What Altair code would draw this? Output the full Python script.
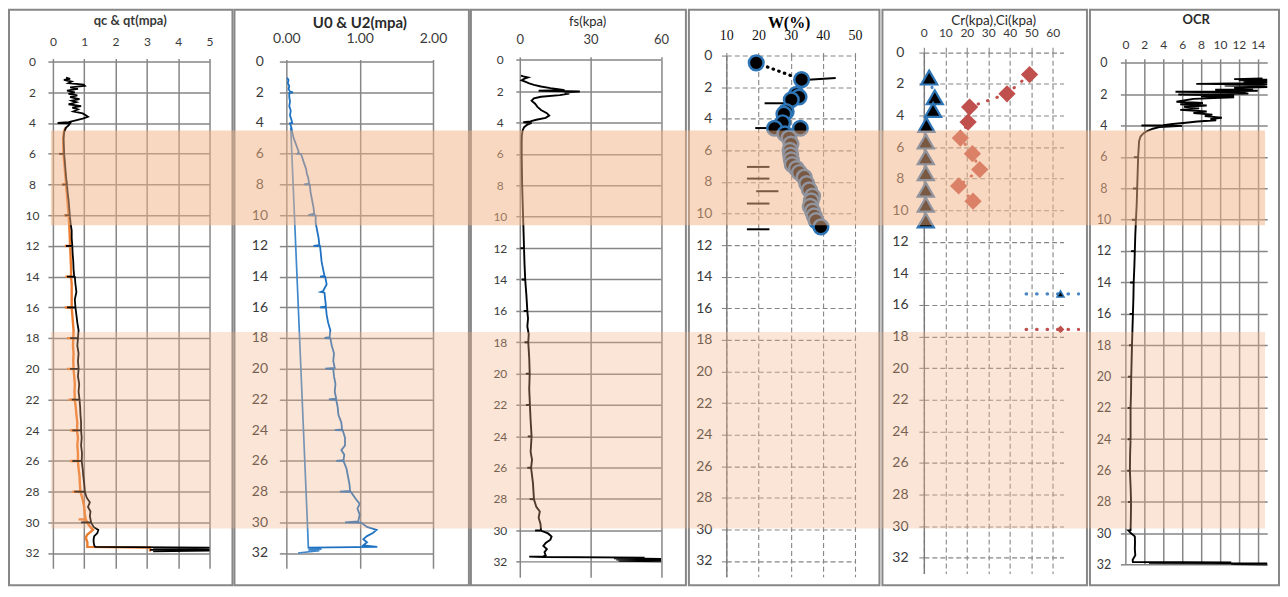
import altair as alt
import pandas as pd

# ---------------- values ----------------
DEPTH_TICKS = list(range(0, 33, 2))
QC_TICKS = [0, 1, 2, 3, 4, 5]
U_TICKS = [0, 1, 2]
FS_TICKS = [0, 30, 60]
W_TICKS = [10, 20, 30, 40, 50]
CR_TICKS = [0, 10, 20, 30, 40, 50, 60]
OCR_TICKS = [0, 2, 4, 6, 8, 10, 12, 14]

TITLES = ["qc & qt(mpa)", "U0 & U2(mpa)", "fs(kpa)", "W(%)", "Cr(kpa),Ci(kpa)", "OCR"]

# (depth m, qt MPa)
QT_PROFILE = [
    (1.05, 0.42), (1.12, 0.55), (1.2, 0.35), (1.3, 0.6), (1.4, 0.5), (1.5, 0.98), (1.58, 1.02), (1.68, 0.55),
    (1.78, 0.8), (1.9, 0.45), (2.0, 0.7), (2.1, 0.5), (2.2, 0.78), (2.32, 0.55), (2.45, 0.85), (2.55, 0.6),
    (2.65, 0.75), (2.78, 0.5), (2.9, 0.9), (3.0, 0.62), (3.12, 0.8), (3.25, 0.65), (3.38, 0.95), (3.5, 1.05),
    (3.6, 1.12), (3.72, 0.95), (3.85, 0.7), (3.95, 0.5), (4.0, 0.15), (4.02, 0.55), (4.15, 0.5), (4.3, 0.42),
    (4.6, 0.36), (5.0, 0.34), (5.5, 0.35), (6.0, 0.36), (6.01, 0.2), (6.02, 0.36), (6.5, 0.38), (7.0, 0.4),
    (7.5, 0.42), (8.0, 0.45), (8.01, 0.3), (8.02, 0.45), (8.5, 0.47), (9.0, 0.5), (9.5, 0.52), (10.0, 0.54),
    (10.01, 0.38), (10.02, 0.54), (10.6, 0.57), (11.0, 0.6), (11.5, 0.6), (12.0, 0.62), (12.01, 0.42), (12.02, 0.62),
    (12.5, 0.63), (13.0, 0.65), (13.5, 0.66), (14.0, 0.68), (14.01, 0.45), (14.02, 0.7), (14.5, 0.72), (15.0, 0.75),
    (15.5, 0.7), (16.0, 0.72), (16.01, 0.45), (16.02, 0.72), (16.5, 0.75), (17.0, 0.78), (17.5, 0.82), (18.0, 0.8),
    (18.01, 0.55), (18.02, 0.8), (18.5, 0.78), (19.0, 0.82), (19.5, 0.8), (20.0, 0.82), (20.01, 0.55), (20.02, 0.82),
    (20.5, 0.8), (21.0, 0.84), (21.5, 0.82), (22.0, 0.85), (22.01, 0.6), (22.02, 0.85), (22.5, 0.87), (23.0, 0.88),
    (23.5, 0.9), (24.0, 0.9), (24.01, 0.62), (24.02, 0.9), (24.5, 0.92), (25.0, 0.9), (25.5, 0.93), (26.0, 0.92),
    (26.01, 0.62), (26.02, 0.92), (26.5, 0.95), (27.0, 0.97), (27.5, 1.0), (28.0, 1.02), (28.01, 0.68), (28.02, 1.02),
    (28.4, 1.08), (28.7, 1.18), (29.0, 1.12), (29.3, 1.2), (29.6, 1.18), (30.0, 1.22), (30.01, 0.9), (30.02, 1.22),
    (30.3, 1.3), (30.5, 1.45), (30.7, 1.42), (30.9, 1.32), (31.1, 1.3), (31.3, 1.3), (31.5, 1.32), (31.6, 1.35),
    (31.65, 5.0), (31.72, 3.2), (31.76, 5.0), (31.8, 3.1), (31.85, 5.0), (31.9, 3.2),
]

# (depth m, qc MPa)
QC_PROFILE = [
    (4.3, 0.4), (4.6, 0.35), (5.0, 0.33), (5.5, 0.33), (6.0, 0.34), (6.01, 0.2), (6.02, 0.34), (6.5, 0.36),
    (7.0, 0.38), (7.5, 0.4), (8.0, 0.42), (8.01, 0.28), (8.02, 0.42), (8.5, 0.44), (9.0, 0.46), (9.5, 0.48),
    (10.0, 0.5), (10.01, 0.36), (10.02, 0.5), (10.6, 0.52), (11.0, 0.53), (11.5, 0.54), (12.0, 0.55), (12.01, 0.38),
    (12.02, 0.55), (12.5, 0.56), (13.0, 0.57), (13.5, 0.58), (14.0, 0.58), (14.01, 0.4), (14.02, 0.58), (14.5, 0.6),
    (15.0, 0.6), (15.5, 0.6), (16.0, 0.6), (16.01, 0.38), (16.02, 0.6), (16.5, 0.62), (17.0, 0.64), (17.5, 0.66),
    (18.0, 0.65), (18.01, 0.45), (18.02, 0.65), (18.5, 0.64), (19.0, 0.66), (19.5, 0.65), (20.0, 0.66), (20.01, 0.45),
    (20.02, 0.66), (20.5, 0.68), (21.0, 0.7), (21.5, 0.69), (22.0, 0.7), (22.01, 0.5), (22.02, 0.7), (22.5, 0.73),
    (23.0, 0.75), (23.5, 0.78), (24.0, 0.77), (24.01, 0.55), (24.02, 0.77), (24.5, 0.8), (25.0, 0.78), (25.5, 0.8),
    (26.0, 0.8), (26.01, 0.55), (26.02, 0.8), (26.5, 0.82), (27.0, 0.85), (27.5, 0.86), (28.0, 0.88), (28.01, 0.62),
    (28.02, 0.88), (28.5, 0.95), (29.0, 1.0), (29.5, 1.02), (29.8, 1.05), (29.81, 0.82), (29.82, 1.05), (30.2, 1.15),
    (30.5, 1.28), (30.8, 1.1), (31.0, 1.05), (31.3, 1.1), (31.6, 1.1), (31.65, 3.1), (31.9, 3.1),
]

# (depth m, u2 MPa)
U2_PROFILE = [
    (1.05, 0.01), (1.2, 0.03), (1.4, 0.02), (1.6, 0.04), (1.8, 0.03), (1.95, 0.05), (2.0, 0.09), (2.05, 0.04),
    (2.3, 0.04), (2.6, 0.05), (2.9, 0.04), (3.2, 0.06), (3.5, 0.05), (3.8, 0.07), (4.0, 0.08), (4.02, 0.05),
    (4.3, 0.07), (4.6, 0.08), (5.0, 0.1), (5.5, 0.14), (5.9, 0.17), (6.0, 0.15), (6.02, 0.2), (6.3, 0.22),
    (6.6, 0.24), (7.0, 0.27), (7.3, 0.28), (7.6, 0.3), (7.95, 0.31), (8.0, 0.24), (8.02, 0.32), (8.5, 0.33),
    (9.0, 0.35), (9.5, 0.37), (9.9, 0.38), (10.0, 0.3), (10.02, 0.4), (10.5, 0.4), (11.0, 0.42), (11.5, 0.44),
    (11.95, 0.45), (12.0, 0.37), (12.02, 0.46), (12.5, 0.47), (13.0, 0.48), (13.5, 0.5), (13.95, 0.52), (14.0, 0.46),
    (14.02, 0.53), (14.5, 0.55), (14.95, 0.5), (15.0, 0.47), (15.05, 0.52), (15.5, 0.53), (15.95, 0.54), (16.0, 0.46),
    (16.02, 0.54), (16.5, 0.55), (17.0, 0.57), (17.5, 0.6), (17.95, 0.59), (18.0, 0.52), (18.02, 0.6), (18.5, 0.62),
    (19.0, 0.65), (19.5, 0.64), (19.95, 0.66), (20.0, 0.53), (20.02, 0.64), (20.5, 0.65), (21.0, 0.67), (21.5, 0.66),
    (21.95, 0.68), (22.0, 0.58), (22.02, 0.68), (22.5, 0.7), (23.0, 0.71), (23.5, 0.75), (23.95, 0.76), (24.0, 0.66),
    (24.02, 0.77), (24.5, 0.8), (25.0, 0.8), (25.3, 0.75), (25.6, 0.79), (25.95, 0.78), (26.0, 0.68), (26.02, 0.78),
    (26.5, 0.82), (27.0, 0.84), (27.5, 0.86), (27.95, 0.87), (28.0, 0.73), (28.02, 0.88), (28.5, 0.95), (28.8, 1.0),
    (29.1, 0.97), (29.5, 1.0), (29.95, 0.98), (30.0, 0.8), (30.02, 1.02), (30.3, 1.1), (30.5, 1.23), (30.7, 1.18),
    (30.9, 1.1), (31.1, 1.05), (31.3, 1.1), (31.5, 1.05), (31.6, 1.24), (31.65, 0.3),
]

# (depth m, u0 MPa)
U0_PROFILE = [(4.3, 0.06), (30.4, 0.29), (31.65, 0.3), (31.75, 0.48), (31.8, 0.3), (31.85, 0.45), (32.0, 0.16)]

# (depth m, fs kPa)
FS_PROFILE = [
    (1.0, 0.5), (1.05, 1.5), (1.12, 3.5), (1.2, 2.0), (1.3, 0.8), (1.4, 2.5), (1.5, 4.0), (1.6, 6.0),
    (1.7, 9.0), (1.8, 13.0), (1.88, 17.0), (1.93, 19.0), (1.97, 8.0), (2.02, 25.5), (2.08, 19.0), (2.15, 21.0),
    (2.25, 17.0), (2.35, 9.0), (2.45, 6.0), (2.6, 5.0), (2.8, 6.5), (3.0, 7.5), (3.2, 9.0), (3.4, 11.5),
    (3.55, 12.5), (3.7, 11.0), (3.82, 7.0), (3.92, 4.5), (3.98, 1.5), (4.02, 5.0), (4.15, 3.0), (4.3, 1.8),
    (4.5, 1.2), (4.8, 0.9), (5.2, 0.8), (6.0, 0.8), (7.0, 0.9), (8.0, 1.0), (9.0, 1.2), (10.0, 1.4),
    (11.0, 1.6), (12.0, 1.8), (12.01, 0.3), (12.02, 1.8), (13.0, 2.0), (14.0, 2.3), (14.01, 0.8), (14.02, 2.3),
    (15.0, 2.8), (16.0, 3.2), (16.01, 1.7), (16.02, 3.2), (16.5, 3.5), (17.0, 3.2), (17.5, 3.8), (18.0, 3.6),
    (18.01, 2.0), (18.02, 3.6), (19.0, 4.0), (20.0, 4.2), (20.01, 2.6), (20.02, 4.2), (21.0, 4.0), (22.0, 4.3),
    (22.01, 2.7), (22.02, 4.3), (23.0, 4.6), (24.0, 5.0), (24.01, 3.4), (24.02, 5.0), (25.0, 4.6), (25.5, 5.2),
    (26.0, 4.8), (26.01, 3.2), (26.02, 4.8), (27.0, 5.6), (28.0, 6.0), (28.01, 4.2), (28.02, 6.0), (28.5, 7.0),
    (28.8, 8.5), (29.2, 8.0), (29.6, 8.8), (30.0, 9.0), (30.01, 6.5), (30.02, 9.0), (30.2, 12.0), (30.4, 13.5),
    (30.6, 13.0), (30.8, 11.0), (31.0, 10.0), (31.2, 11.5), (31.4, 10.5), (31.6, 11.0), (31.66, 10.0), (31.68, 4.0),
    (31.7, 10.0), (31.74, 53.0), (31.78, 40.0), (31.82, 60.0), (31.86, 41.0), (31.9, 60.0), (31.94, 42.0), (31.98, 60.0),
]

# (depth m, water content %)
W_SAMPLES = [
    (0.46, 19.3), (1.52, 33.4), (2.45, 31.8), (2.62, 32.6), (2.8, 30.2), (3.55, 28.6), (3.7, 27.9), (4.25, 27.5),
    (4.6, 25.0), (4.6, 33.0), (4.95, 28.2), (5.2, 29.5), (5.6, 30.1), (6.0, 29.8), (6.3, 30.0), (6.6, 30.2),
    (6.9, 30.5), (7.15, 31.8), (7.4, 32.7), (7.7, 34.2), (8.1, 35.0), (8.5, 35.8), (8.9, 36.8), (9.2, 36.4),
    (9.55, 36.1), (9.85, 36.8), (10.15, 37.3), (10.45, 37.9), (10.85, 39.4),
]
W_LINK = [(0.46, 19.3), (1.52, 33.4)]
# short limit markers: (from %, from depth, to %, to depth)
W_MARKS = [
    (34.2, 1.55, 44.0, 1.42), (21.9, 3.02, 29.1, 3.02), (19.0, 4.59, 23.4, 4.59), (16.4, 7.05, 23.4, 7.05),
    (16.4, 7.79, 23.4, 7.79), (19.3, 8.59, 26.2, 8.59), (16.4, 9.37, 23.4, 9.37), (16.4, 11.0, 23.4, 11.0),
]

# (depth m, kPa)
CR_SAMPLES = [(1.6, 2.5), (2.85, 5.1), (3.65, 4.3), (4.6, 1.2), (5.65, 0.9), (6.65, 0.9), (7.65, 0.9),
              (8.7, 0.9), (9.65, 0.9), (10.65, 0.9)]
CI_SAMPLES = [(1.41, 49.2), (2.63, 38.7), (3.47, 21.3), (4.42, 20.6), (5.43, 17.0), (6.42, 22.6), (7.43, 26.0),
              (8.46, 16.2), (9.43, 22.9)]
KEY_DEPTHS = [15.3, 17.55]
KEY_SPAN = [47.6, 72.0]
KEY_MARK = [63.6]

# (depth m, OCR)
OCR_PROFILE = [
    (1.0, 14.5), (1.04, 11.5), (1.08, 15.0), (1.12, 12.0), (1.16, 15.0), (1.2, 12.5), (1.24, 15.0), (1.3, 13.0),
    (1.34, 7.5), (1.38, 15.0), (1.44, 10.5), (1.5, 14.5), (1.55, 15.0), (1.6, 11.5), (1.66, 13.5), (1.72, 9.5),
    (1.78, 14.0), (1.84, 5.3), (1.9, 12.5), (1.96, 13.0), (2.02, 5.6), (2.08, 11.5), (2.14, 8.0), (2.2, 11.5),
    (2.3, 7.2), (2.4, 6.2), (2.48, 5.4), (2.56, 8.2), (2.64, 5.8), (2.72, 8.6), (2.8, 6.2), (2.9, 7.8),
    (3.0, 5.8), (3.1, 8.6), (3.2, 7.2), (3.3, 9.2), (3.4, 8.4), (3.5, 10.2), (3.58, 9.0), (3.66, 9.6),
    (3.74, 7.6), (3.82, 6.4), (3.9, 5.0), (3.97, 4.0), (4.0, 1.7), (4.02, 6.0), (4.1, 3.6), (4.2, 2.9),
    (4.35, 2.3), (4.5, 1.9), (4.7, 1.6), (5.0, 1.45), (5.5, 1.4), (6.0, 1.35), (6.01, 0.9), (6.02, 1.35),
    (7.0, 1.3), (8.0, 1.25), (8.01, 0.8), (8.02, 1.25), (9.0, 1.2), (10.0, 1.12), (10.01, 0.7), (10.02, 1.12),
    (11.0, 1.05), (12.0, 1.0), (12.01, 0.6), (12.02, 1.0), (13.0, 0.95), (14.0, 0.88), (14.01, 0.5), (14.02, 0.88),
    (15.0, 0.85), (16.0, 0.8), (16.01, 0.45), (16.02, 0.8), (17.0, 0.75), (18.0, 0.7), (18.01, 0.4), (18.02, 0.7),
    (19.0, 0.66), (20.0, 0.62), (20.01, 0.3), (20.02, 0.62), (21.0, 0.6), (22.0, 0.55), (22.01, 0.25), (22.02, 0.55),
    (23.0, 0.55), (24.0, 0.55), (24.01, 0.25), (24.02, 0.55), (25.0, 0.5), (26.0, 0.48), (26.01, 0.2), (26.02, 0.48),
    (27.0, 0.55), (28.0, 0.6), (28.01, 0.3), (28.02, 0.6), (29.0, 0.58), (29.8, 0.55), (29.81, 0.3), (30.0, 0.6),
    (30.2, 1.0), (30.6, 1.02), (31.0, 1.0), (31.4, 1.05), (31.7, 0.77), (31.84, 0.8), (31.86, 11.2), (31.9, 2.5),
    (31.93, 15.0), (31.96, 11.2), (32.0, 15.0),
]

# ---------------- styling / geometry ----------------
FONT = "Lato"
SERIF = "Liberation Serif"
LABEL_C = "#3a3a3a"
GRID_C = "#868686"
FRAME_C = "#878787"
BAND_C = "#F4B183"
BLUE_MK = "#2E75B6"
TOP = 51.0                      # common top of every plot group (page px)
FRAME_TOP, FRAME_BOT = 9, 586
BAND1, BAND2 = (130, 225), (332, 529)

G = {
    "qc": dict(X0=53, Y0=61.0, w=157, h=508, fl=9, fr=233, bx=(51, 234)),
    "u": dict(X0=287, Y0=61.0, w=147, h=508, fl=235, fr=470, bx=(234, 471)),
    "fs": dict(X0=521, Y0=59.3, w=141.6, h=518.7, fl=472, fr=687.5, bx=(471, 688.5)),
    "w": dict(X0=727, Y0=55.0, w=129, h=522.4, fl=689.5, fr=880.5, bx=(688.5, 881.5)),
    "cr": dict(X0=924, Y0=51.7, w=140, h=522.4, fl=882.5, fr=1087.5, bx=(881.5, 1088.5)),
    "ocr": dict(X0=1125, Y0=62.3, w=142.2, h=502.9, fl=1089.5, fr=1279, bx=(1088.5, 1265)),
}

ONE = pd.DataFrame({"k": [0]})


def prof(pairs):
    return pd.DataFrame({"i": list(range(len(pairs))),
                         "d": [p[0] for p in pairs],
                         "v": [p[1] for p in pairs]})


def frame_layer(g):
    return alt.Chart(ONE).mark_rect(fillOpacity=0, stroke=FRAME_C, strokeWidth=2).encode(
        x=alt.value(g["fl"] - g["X0"]), x2=alt.value(g["fr"] - g["X0"]),
        y=alt.value(FRAME_TOP - TOP), y2=alt.value(FRAME_BOT - TOP))


def band_layers(g):
    out = []
    for (t, b), op in ((BAND1, 0.5), (BAND2, 0.33)):
        out.append(alt.Chart(ONE).mark_rect(fill=BAND_C, fillOpacity=op, strokeWidth=0).encode(
            x=alt.value(g["bx"][0] - g["X0"]), x2=alt.value(g["bx"][1] - g["X0"]),
            y=alt.value(t - TOP), y2=alt.value(b - TOP)))
    return out


def title_layer(g, text, cx, cy, font, size, weight, color):
    return alt.Chart(ONE).mark_text(text=text, font=font, fontSize=size, fontWeight=weight, color=color,
                                    align="center", baseline="middle").encode(
        x=alt.value(cx - g["X0"]), y=alt.value(cy - TOP))


def axis(orient, values, fmt, tick, pad, size, align=None, dash=None, domain=False, font=FONT,
         color=LABEL_C, offset=None):
    kw = dict(orient=orient, values=values, format=fmt, title=None, grid=True, gridColor=GRID_C,
              gridWidth=1.5, ticks=True, tickSize=tick, tickColor=GRID_C, tickWidth=1.5,
              labelPadding=pad, labelFont=font, labelFontSize=size, labelColor=color,
              labelOverlap=False, labelFlush=False, domain=domain)
    if align:
        kw["labelAlign"] = align
    if dash:
        kw.update(gridDash=dash, tickDash=dash, gridWidth=1.1, tickWidth=1.1)
    if domain:
        kw.update(domainColor="#7a7a7a", domainWidth=1.4)
    if offset is not None:
        kw["offset"] = offset
    return alt.Axis(**kw)


def make_enc(g, xlo, xhi, xaxis, maxd, yaxis):
    dy = g["Y0"] - TOP
    xs = alt.Scale(domain=[xlo, xhi], nice=False, zero=False)
    ys = alt.Scale(domain=[0, maxd], range=[dy, dy + g["h"]], nice=False, zero=False)

    def X(field):
        return alt.X(f"{field}:Q", scale=xs, axis=xaxis)

    def Y(field):
        return alt.Y(f"{field}:Q", scale=ys, axis=yaxis)
    return X, Y


def dims(g):
    return dict(width=g["w"], height=round(g["Y0"] - TOP + g["h"], 1))


# ---------------- panel 1: qc & qt ----------------
g = G["qc"]
X, Y = make_enc(g, 0, 5, axis("top", QC_TICKS, "d", 3, 10.5, 12, offset=TOP - g["Y0"]),
                33, axis("left", DEPTH_TICKS, "d", 5, 16, 12, align="center"))
p1 = alt.layer(
    frame_layer(g),
    alt.Chart(prof(QC_PROFILE)).mark_line(color="#ED7D31", strokeWidth=2.4).encode(x=X("v"), y=Y("d"), order="i:Q"),
    alt.Chart(prof(QT_PROFILE)).mark_line(color="#000000", strokeWidth=1.8).encode(x=X("v"), y=Y("d"), order="i:Q"),
    *band_layers(g),
    title_layer(g, TITLES[0], 130.5, 20, FONT, 13, "bold", "#3a3a3a"),
).properties(**dims(g))

# ---------------- panel 2: U0 & U2 ----------------
g = G["u"]
X, Y = make_enc(g, 0, 2, axis("top", U_TICKS, ".2f", 2, 14.4, 14, offset=TOP - g["Y0"]),
                33, axis("left", DEPTH_TICKS, "d", 7, 20, 14, align="center"))
p2 = alt.layer(
    frame_layer(g),
    alt.Chart(prof(U0_PROFILE)).mark_line(color="#3F88CB", strokeWidth=1.7).encode(x=X("v"), y=Y("d"), order="i:Q"),
    alt.Chart(prof(U2_PROFILE)).mark_line(color="#1F72C2", strokeWidth=1.8).encode(x=X("v"), y=Y("d"), order="i:Q"),
    *band_layers(g),
    title_layer(g, TITLES[1], 360.7, 22, FONT, 15, "bold", "#2a2a2a"),
).properties(**dims(g))

# ---------------- panel 3: fs ----------------
g = G["fs"]
X, Y = make_enc(g, 0, 60, axis("top", FS_TICKS, "d", 3, 10.4, 13, offset=TOP - g["Y0"]),
                33, axis("left", DEPTH_TICKS, "d", 4, 16, 12, align="center"))
p3 = alt.layer(
    frame_layer(g),
    alt.Chart(prof(FS_PROFILE)).mark_line(color="#000000", strokeWidth=1.9).encode(x=X("v"), y=Y("d"), order="i:Q"),
    *band_layers(g),
    title_layer(g, TITLES[2], 589, 21, FONT, 13, "normal", "#2a2a2a"),
).properties(**dims(g))

# ---------------- panel 4: W ----------------
g = G["w"]
DASH = [5, 3]
X, Y = make_enc(g, 10, 50, axis("top", W_TICKS, "d", 3, 10, 14, dash=DASH, font=SERIF, color="#111111",
                                offset=TOP - g["Y0"]),
                33, axis("left", DEPTH_TICKS, "d", 5, 9.5, 14, align="right", dash=DASH, domain=True))
marks_df = pd.DataFrame({"x1": [m[0] for m in W_MARKS], "d1": [m[1] for m in W_MARKS],
                         "x2": [m[2] for m in W_MARKS], "d2": [m[3] for m in W_MARKS]})
p4 = alt.layer(
    frame_layer(g),
    alt.Chart(prof(W_LINK)).mark_line(color="#000000", strokeWidth=3.2, strokeDash=[0.5, 5.5], strokeCap="round").encode(
        x=X("v"), y=Y("d"), order="i:Q"),
    alt.Chart(marks_df).mark_rule(color="#000000", strokeWidth=2).encode(
        x=X("x1"), x2="x2:Q", y=Y("d1"), y2="d2:Q"),
    alt.Chart(prof(W_SAMPLES)).mark_point(shape="circle", filled=True, fill="#000000", stroke=BLUE_MK,
                                          strokeWidth=2.5, size=215, opacity=1).encode(x=X("v"), y=Y("d")),
    *band_layers(g),
    title_layer(g, TITLES[3], 790, 22, SERIF, 16, "bold", "#000000"),
).properties(**dims(g))

# ---------------- panel 5: Cr, Ci ----------------
g = G["cr"]
X, Y = make_enc(g, 0, 65, axis("top", CR_TICKS, "d", 5, 7.5, 12, dash=DASH, offset=TOP - g["Y0"]),
                33, axis("left", DEPTH_TICKS, "d", 6, 18, 14, align="center", dash=DASH, domain=True))
key_df = pd.DataFrame({"d": KEY_DEPTHS, "x1": [KEY_SPAN[0]] * 2, "x2": [KEY_SPAN[1]] * 2})
key_cr = pd.DataFrame({"d": [KEY_DEPTHS[0]], "v": KEY_MARK})
key_ci = pd.DataFrame({"d": [KEY_DEPTHS[1]], "v": KEY_MARK})
p5 = alt.layer(
    frame_layer(g),
    alt.Chart(prof(CR_SAMPLES)).mark_line(color="#4A86C5", strokeWidth=3, strokeDash=[0.5, 9.5], strokeCap="round").encode(
        x=X("v"), y=Y("d"), order="i:Q"),
    alt.Chart(prof(CI_SAMPLES)).mark_line(color="#C0504D", strokeWidth=3, strokeDash=[0.5, 9.5], strokeCap="round").encode(
        x=X("v"), y=Y("d"), order="i:Q"),
    alt.Chart(prof(CR_SAMPLES)).mark_point(shape="triangle-up", filled=True, fill="#000000", stroke=BLUE_MK,
                                           strokeWidth=2.2, size=260, opacity=1).encode(x=X("v"), y=Y("d")),
    alt.Chart(prof(CI_SAMPLES)).mark_point(shape="diamond", filled=True, fill="#C0504D", strokeWidth=0,
                                           size=300, opacity=1).encode(x=X("v"), y=Y("d")),
    alt.Chart(key_df.iloc[[0]]).mark_rule(color="#4A86C5", strokeWidth=3.2, strokeDash=[0.5, 10], strokeCap="round").encode(
        x=X("x1"), x2="x2:Q", y=Y("d")),
    alt.Chart(key_df.iloc[[1]]).mark_rule(color="#C0504D", strokeWidth=3.2, strokeDash=[0.5, 10], strokeCap="round").encode(
        x=X("x1"), x2="x2:Q", y=Y("d")),
    alt.Chart(key_cr).mark_point(shape="triangle-up", filled=True, fill="#000000", stroke=BLUE_MK,
                                 strokeWidth=1.5, size=50, opacity=1).encode(x=X("v"), y=Y("d")),
    alt.Chart(key_ci).mark_point(shape="diamond", filled=True, fill="#C0504D", strokeWidth=0,
                                 size=60, opacity=1).encode(x=X("v"), y=Y("d")),
    *band_layers(g),
    title_layer(g, TITLES[4], 994, 20, FONT, 13.5, "normal", "#2a2a2a"),
).properties(**dims(g))

# ---------------- panel 6: OCR ----------------
g = G["ocr"]
X, Y = make_enc(g, 0, 15, axis("top", OCR_TICKS, "d", 4, 7.5, 12, offset=TOP - g["Y0"]),
                32, axis("left", DEPTH_TICKS, "d", 5, 17, 12.5, align="center"))
p6 = alt.layer(
    frame_layer(g),
    alt.Chart(prof(OCR_PROFILE)).mark_line(color="#000000", strokeWidth=1.9).encode(x=X("v"), y=Y("d"), order="i:Q"),
    *band_layers(g),
    title_layer(g, TITLES[5], 1196, 19, FONT, 13, "bold", "#2a2a2a"),
).properties(**dims(g))

chart = alt.hconcat(p1, p2, p3, p4, p5, p6, spacing=0).resolve_scale(
    x="independent", y="independent").properties(
    padding={"left": 0, "top": 0, "right": 0, "bottom": 0}, background="white"
).configure_view(strokeWidth=0)

chart.save("out.html", embed_options={"renderer": "svg", "actions": False})
